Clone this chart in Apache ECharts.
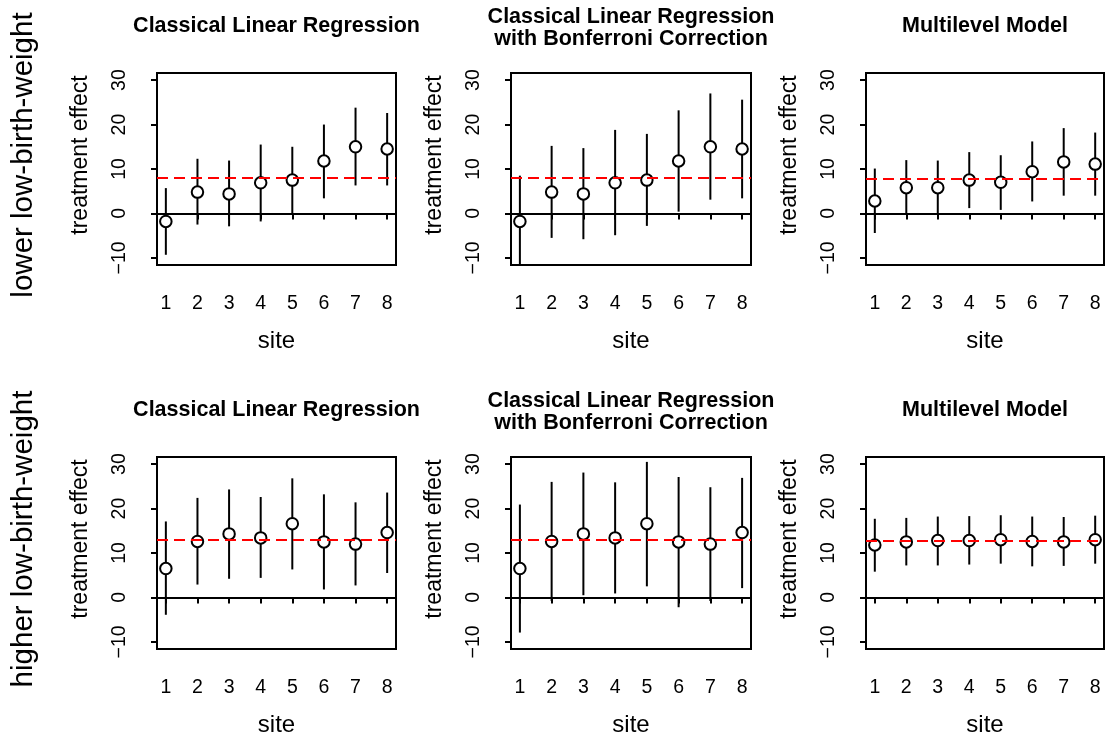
<!DOCTYPE html>
<html><head><meta charset="utf-8">
<script src="https://cdn.jsdelivr.net/npm/echarts@6/dist/echarts.min.js"></script>
<style>html,body{margin:0;padding:0;background:#fff}#c{width:1105px;height:740px}</style>
</head><body><div id="c"></div><script>
// ---- data ----
const sites = [1, 2, 3, 4, 5, 6, 7, 8];
const yTickValues = [-10, 0, 10, 20, 30];
const rowLabels = ['lower low-birth-weight', 'higher low-birth-weight'];
const panelTitles = [['Classical Linear Regression'], ['Classical Linear Regression', 'with Bonferroni Correction'], ['Multilevel Model']];
const xAxisTitle = 'site';
const yAxisTitle = 'treatment effect';

// lower low-birth-weight row
const lowEst = [-1.8, 4.8, 4.4, 6.9, 7.5, 11.8, 15.0, 14.5];
const lowClLo = [-9.3, -2.5, -2.9, -1.8, 0.0, 3.4, 6.3, 6.3];
const lowClHi = [5.7, 12.3, 11.9, 15.5, 15.0, 20.0, 23.8, 22.6];
const lowBfLo = [-12.1, -5.5, -5.8, -4.9, -2.8, 0.4, 3.1, 3.4];
const lowBfHi = [8.5, 15.2, 14.7, 18.8, 17.9, 23.2, 27.0, 25.6];
const lowMlEst = [2.8, 5.8, 5.8, 7.5, 7.0, 9.4, 11.6, 11.1];
const lowMlLo = [-4.4, 0.0, -0.3, 1.2, 0.8, 2.7, 4.0, 4.0];
const lowMlHi = [10.1, 12.0, 11.9, 13.8, 13.1, 16.2, 19.2, 18.2];
const lowMean = 8.0;
const lowMlMean = 7.7;

// higher low-birth-weight row
const highEst = [6.5, 12.6, 14.3, 13.4, 16.6, 12.5, 12.0, 14.6];
const highClLo = [-3.9, 2.9, 4.2, 4.4, 6.3, 1.8, 2.7, 5.5];
const highClHi = [17.1, 22.4, 24.3, 22.6, 26.8, 23.2, 21.4, 23.6];
const highBfLo = [-7.9, -0.8, 0.5, 0.9, 2.5, -2.2, -0.8, 2.1];
const highBfHi = [20.9, 26.0, 28.1, 25.9, 30.5, 27.1, 24.8, 26.9];
const highMlEst = [11.8, 12.5, 12.8, 12.8, 13.0, 12.6, 12.5, 13.0];
const highMlLo = [5.8, 7.2, 7.2, 7.4, 7.6, 7.0, 7.1, 7.6];
const highMlHi = [17.7, 17.9, 18.2, 18.3, 18.5, 18.2, 18.1, 18.4];
const highMean = 12.9;
const highMlMean = 12.7;

// ---- layout ----
const FONT = '"Liberation Sans", Arial, Helvetica, sans-serif';
const colLeft = [157, 511, 866];
const colWidth = [239, 240, 238];
const rowTop = [73, 457];
const rowHeight = [192, 192];

const panels = [
  {r: 0, c: 0, est: lowEst, lo: lowClLo, hi: lowClHi, mean: lowMean},
  {r: 0, c: 1, est: lowEst, lo: lowBfLo, hi: lowBfHi, mean: lowMean},
  {r: 0, c: 2, est: lowMlEst, lo: lowMlLo, hi: lowMlHi, mean: lowMlMean},
  {r: 1, c: 0, est: highEst, lo: highClLo, hi: highClHi, mean: highMean},
  {r: 1, c: 1, est: highEst, lo: highBfLo, hi: highBfHi, mean: highMean},
  {r: 1, c: 2, est: highMlEst, lo: highMlLo, hi: highMlHi, mean: highMlMean}
];

const grid = [], xAxis = [], yAxis = [], series = [], graphic = [];
const minus = v => String(v).replace('-', '\u2212');

panels.forEach((p, i) => {
  const L = colLeft[p.c], W = colWidth[p.c], T = rowTop[p.r], H = rowHeight[p.r];
  grid.push({left: L, top: T, width: W, height: H, show: true, borderColor: '#000', borderWidth: 2, backgroundColor: 'transparent'});
  xAxis.push({
    type: 'value', gridIndex: i, min: 0.72, max: 8.28,
    axisLine: {show: false}, splitLine: {show: false},
    axisTick: {show: true, customValues: sites, length: 6, lineStyle: {color: '#000', width: 2}},
    axisLabel: {customValues: sites, margin: 29, fontSize: 19.5, color: '#000', fontFamily: FONT}
  });
  yAxis.push({
    type: 'value', gridIndex: i, min: -11.6, max: 31.6,
    axisLine: {show: false}, splitLine: {show: false},
    axisTick: {show: true, customValues: yTickValues, length: 6, lineStyle: {color: '#000', width: 2}},
    axisLabel: {customValues: yTickValues, rotate: 90, margin: 27, fontSize: 19.5, color: '#000', fontFamily: FONT, formatter: minus}
  });
  series.push({
    type: 'line', xAxisIndex: i, yAxisIndex: i, data: [], z: 1, silent: true,
    markLine: {
      silent: true, symbol: ['none', 'none'], label: {show: false}, animation: false,
      data: [
        {yAxis: 0, lineStyle: {color: '#000', type: 'solid', width: 2}},
        {yAxis: p.mean, lineStyle: {color: '#ff0000', type: [11, 6], width: 2}}
      ]
    }
  });
  series.push({
    type: 'custom', xAxisIndex: i, yAxisIndex: i, z: 3, clip: true, silent: true,
    data: sites.map((s, k) => [s, p.lo[k], p.hi[k]]),
    encode: {x: 0, y: [1, 2]},
    renderItem: (params, api) => {
      const a = api.coord([api.value(0), api.value(1)]);
      const b = api.coord([api.value(0), api.value(2)]);
      return {type: 'line', shape: {x1: a[0], y1: a[1], x2: b[0], y2: b[1]}, style: {stroke: '#000', lineWidth: 2}};
    }
  });
  series.push({
    type: 'scatter', xAxisIndex: i, yAxisIndex: i, z: 4, silent: true,
    symbol: 'circle', symbolSize: 11.5,
    itemStyle: {color: '#fff', borderColor: '#000', borderWidth: 2, opacity: 1},
    data: sites.map((s, k) => [s, p.est[k]])
  });

  // panel title
  const cx = L + W / 2;
  const lines = panelTitles[p.c];
  const ys = lines.length === 1 ? [T - 47] : [T - 56, T - 33.5];
  lines.forEach((t, k) => graphic.push({
    type: 'text', x: cx, y: ys[k], silent: true,
    style: {text: t, fill: '#000', font: 'bold 21.5px ' + FONT, align: 'center', verticalAlign: 'middle'}
  }));
  // x axis title
  graphic.push({
    type: 'text', x: cx, y: T + H + 76, silent: true,
    style: {text: xAxisTitle, fill: '#000', font: '24px ' + FONT, align: 'center', verticalAlign: 'middle'}
  });
  // y axis title
  graphic.push({
    type: 'text', x: L - 76.5, y: T + H / 2 - 14, rotation: Math.PI / 2, silent: true,
    style: {text: yAxisTitle, fill: '#000', font: '23px ' + FONT, align: 'center', verticalAlign: 'middle'}
  });
});

rowLabels.forEach((t, r) => graphic.push({
  type: 'text', x: 24, y: rowTop[r] + 82, rotation: Math.PI / 2, silent: true,
  style: {text: t, fill: '#000', font: '29.5px ' + FONT, align: 'center', verticalAlign: 'middle'}
}));

const chart = echarts.init(document.getElementById('c'), null, {renderer: 'canvas'});
chart.setOption({
  animation: false,
  backgroundColor: '#fff',
  grid, xAxis, yAxis, series, graphic
});
</script></body></html>
